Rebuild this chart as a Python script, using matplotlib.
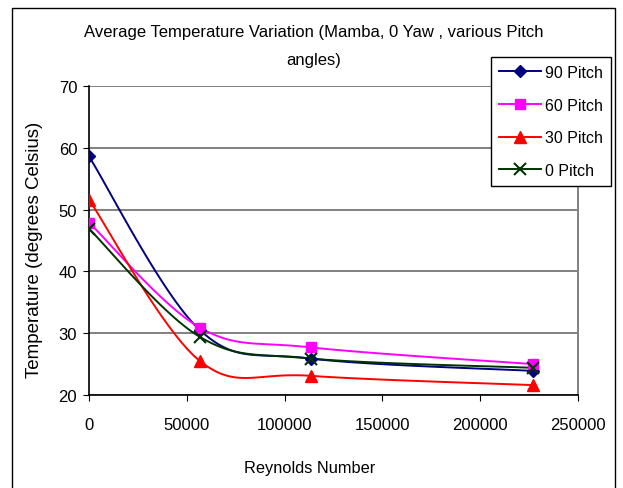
import numpy as np
import matplotlib
matplotlib.use('Agg')
import matplotlib.pyplot as plt
from matplotlib.patches import Rectangle

plt.rcParams['font.family'] = ['Liberation Sans', 'DejaVu Sans']

# Дані з графіка
reynolds = [0, 56700, 113400, 226800]
pitch_90 = [58.6, 30.5, 25.9, 23.9]
pitch_60 = [47.9, 30.9, 27.7, 25.0]
pitch_30 = [51.6, 25.5, 23.1, 21.6]
pitch_0 = [46.9, 29.4, 25.9, 24.4]

series = [
    ('90 Pitch', pitch_90, '#000080', 'D', 6),
    ('60 Pitch', pitch_60, '#FF00FF', 's', 7),
    ('30 Pitch', pitch_30, '#FF0000', '^', 8),
    ('0 Pitch', pitch_0, '#003300', 'x', 8),
]


# Згладжена лінія як в Excel (Безьє з дотичними Катмулла-Рома)
def smooth_line(xs, ys, steps=40):
    pts = np.column_stack([xs, ys]).astype(float)
    n = len(pts)
    out = [pts[0]]
    t = np.linspace(0, 1, steps)[1:, None]
    for i in range(n - 1):
        p0 = pts[i - 1] if i > 0 else pts[i]
        p1 = pts[i]
        p2 = pts[i + 1]
        p3 = pts[i + 2] if i + 2 < n else pts[i + 1]
        c1 = p1 + (p2 - p0) / 6
        c2 = p2 - (p3 - p1) / 6
        seg = ((1 - t) ** 3) * p1 + 3 * ((1 - t) ** 2) * t * c1 + 3 * (1 - t) * t ** 2 * c2 + t ** 3 * p2
        out.extend(seg)
    out = np.array(out)
    return out[:, 0], out[:, 1]


fig = plt.figure(figsize=(6.23, 4.89), dpi=100)
ax = fig.add_axes([89 / 623, 1 - 396 / 489, 489 / 623, 309 / 489])

for name, vals, color, marker, ms in series:
    sx, sy = smooth_line(reynolds, vals)
    ax.plot(sx, sy, color=color, linewidth=1.4, zorder=3)
    ax.plot(reynolds, vals, linestyle='none', marker=marker, color=color,
            markersize=ms, markeredgewidth=1.5 if marker == 'x' else 1, zorder=4)
    ax.plot([], [], color=color, marker=marker, markersize=ms, linewidth=1.4,
            markeredgewidth=1.5 if marker == 'x' else 1, label=name)

ax.set_xlim(0, 250000)
ax.set_ylim(20, 70)
ax.set_xticks(np.arange(0, 250001, 50000))
ax.set_yticks(np.arange(20, 71, 10))
ax.tick_params(labelsize=12, direction='out', length=4.5, color='black')
ax.tick_params(axis='x', pad=11)
ax.tick_params(axis='y', pad=4)
ax.grid(axis='y', color='#808080', linewidth=1.4)
ax.set_axisbelow(True)
ax.spines['top'].set_visible(False)
ax.spines['right'].set_color('#808080')
ax.spines['right'].set_linewidth(1.4)
ax.spines['left'].set_linewidth(1.2)
ax.spines['bottom'].set_linewidth(1.2)

fig.text(35 / 623, 1 - 250 / 489, 'Temperature (degrees Celsius)', rotation=90,
         ha='center', va='center', fontsize=13.5)
fig.text(310 / 623, 1 - 469 / 489, 'Reynolds Number', ha='center', va='center', fontsize=11.8)
fig.text(314 / 623, 1 - 33 / 489, 'Average Temperature Variation (Mamba, 0 Yaw , various Pitch',
         ha='center', va='center', fontsize=12)
fig.text(314 / 623, 1 - 61 / 489, 'angles)', ha='center', va='center', fontsize=12)

leg = fig.legend(loc='upper left', bbox_to_anchor=(491 / 623, 1 - 58 / 489), fontsize=11.5,
                 frameon=True, fancybox=False, edgecolor='black', framealpha=1,
                 handlelength=2.6, labelspacing=1.1, borderpad=0.5, handletextpad=0.3,
                 borderaxespad=0)
leg.get_frame().set_linewidth(1.0)

# Рамка навколо діаграми
fig.patches.append(Rectangle((12 / 623, -0.05), 603 / 623, 1.05 - 9 / 489,
                             transform=fig.transFigure, fill=False,
                             edgecolor='black', linewidth=1.0))

fig.savefig('out.png', dpi=100)
